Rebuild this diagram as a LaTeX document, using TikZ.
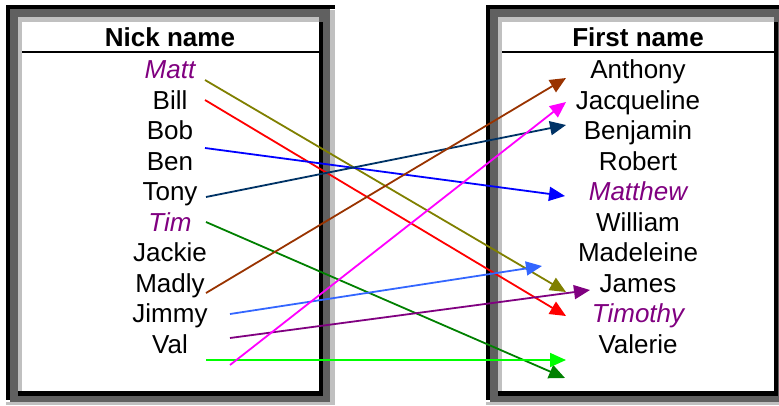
\documentclass[tikz,border=0pt]{standalone}
\usepackage{fontspec}
\setmainfont{Liberation Sans}
\usepackage{tikz}
\usetikzlibrary{arrows.meta}

\definecolor{ppurple}{HTML}{800080}
\definecolor{dkgray}{HTML}{606060}
\definecolor{ltgray}{HTML}{C0C0C0}
\definecolor{olivelink}{HTML}{808000}
\definecolor{navylink}{HTML}{003366}
\definecolor{rustlink}{HTML}{993300}
\definecolor{skylink}{HTML}{3366FF}
\definecolor{greenlink}{HTML}{008000}
\definecolor{limelink}{HTML}{00FF00}
\definecolor{maglink}{HTML}{FF00FF}

\tikzset{
  entrytxt/.style={anchor=base,inner sep=0pt,font=\fontsize{26}{30}\selectfont},
  nicktxt/.style={entrytxt,text=ppurple,font=\fontsize{26}{30}\selectfont\itshape},
  headtxt/.style={anchor=base,inner sep=0pt,font=\fontsize{26}{30}\selectfont\bfseries},
  link/.style={line width=1.8pt,-{Triangle[length=16pt,width=14pt]}}
}

\begin{document}
\begin{tikzpicture}[x=1pt,y=-1pt]
    \useasboundingbox (0,0) rectangle (779,405);
    % Draw the two framed boxes
    \foreach \l/\r in {6/319, 486/774}{
      \fill[black] (\l,5) rectangle (\r+16,9);
      \fill[black] (\l,5) rectangle (\l+4,400);
      \fill[dkgray] (\l+4,9) rectangle (\r+11,402);
      \fill[ltgray] (\r+11,10) rectangle (\r+16,405);
      \fill[ltgray] (\l,402) rectangle (\r+11,405);
      \fill[ltgray] (\l+12,17) rectangle (\r,22);
      \fill[ltgray] (\l+12,17) rectangle (\l+16,391);
      \fill[black] (\r,22) rectangle (\r+4,396);
      \fill[black] (\l+12,391) rectangle (\r+4,396);
      \fill[white] (\l+16,22) rectangle (\r,391);
      \draw[line width=1.5pt] (\l+16,52) -- (\r,52);
    }
    % Headers
    \node[headtxt] (nickhead) at (170,46.5) {Nick name};
    \node[headtxt] (firsthead) at (638,46.5) {First name};
    % Names in both columns
    \foreach \t/\s [count=\i from 0] in {Matt/nicktxt, Bill/entrytxt, Bob/entrytxt, Ben/entrytxt, Tony/entrytxt, Tim/nicktxt, Jackie/entrytxt, Madly/entrytxt, Jimmy/entrytxt, Val/entrytxt}{
      \node[\s] (\t) at (170,{78.5+30.55*\i}) {\t};
    }
    \foreach \t/\s [count=\i from 0] in {Anthony/entrytxt, Jacqueline/entrytxt, Benjamin/entrytxt, Robert/entrytxt, Matthew/nicktxt, William/entrytxt, Madeleine/entrytxt, James/entrytxt, Timothy/nicktxt, Valerie/entrytxt}{
      \node[\s] (\t) at (638,{78.5+30.55*\i}) {\t};
    }
    % Ends of the links
    \coordinate (mattR) at (205,80);
    \coordinate (billR) at (205,100);
    \coordinate (benR) at (205,148);
    \coordinate (tonyR) at (206,197);
    \coordinate (timR) at (206,222);
    \coordinate (madlyR) at (206,293);
    \coordinate (jimmyR) at (230,314);
    \coordinate (jimmyB) at (230,338);
    \coordinate (valR) at (206,360);
    \coordinate (valB) at (230,365);
    \coordinate (anthonyL) at (566,78);
    \coordinate (jacqL) at (566,102);
    \coordinate (benjL) at (566,125);
    \coordinate (matthewL) at (565,196);
    \coordinate (madelB) at (542,266);
    \coordinate (jamesL) at (590,290);
    \coordinate (jamesB) at (566,292);
    \coordinate (timothyL) at (566,316);
    \coordinate (valerieL) at (566,360);
    \coordinate (valerieB) at (565,378);
    % Draw the links
    \foreach \a/\b/\c in {mattR/jamesB/olivelink, billR/timothyL/red, benR/matthewL/blue,
      tonyR/benjL/navylink, timR/valerieB/greenlink, madlyR/anthonyL/rustlink,
      jimmyR/madelB/skylink, jimmyB/jamesL/ppurple, valR/valerieL/limelink, valB/jacqL/maglink}{
      \draw[link,\c] (\a) -- (\b);
    }
\end{tikzpicture}
\end{document}
